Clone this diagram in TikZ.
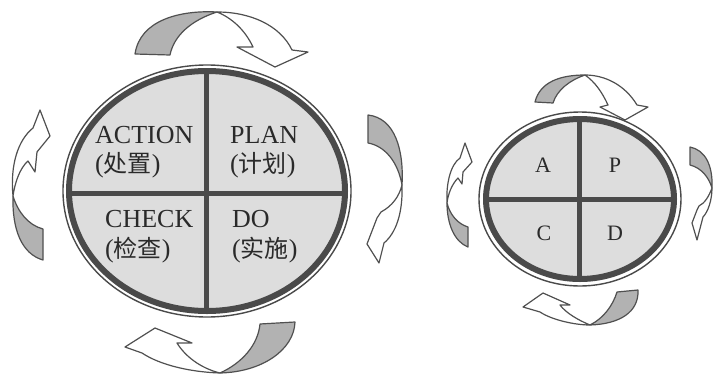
\documentclass[tikz,border=0pt]{standalone}
\usepackage{fontspec}
\setmainfont{Liberation Serif}
\newfontfamily\cjk{Noto Sans CJK SC}
\definecolor{ringc}{HTML}{4A4A4A}
\definecolor{quadc}{HTML}{DDDDDD}
\definecolor{tailc}{HTML}{B2B2B2}
\definecolor{edgec}{HTML}{505050}
\definecolor{txtc}{HTML}{2A2A2A}
\newcommand{\cjktxt}[1]{{\cjk\fontsize{24}{28}\selectfont #1}}
\tikzset{
  ringthin/.style={draw=ringc, line width=1.4pt},
  ringthick/.style={draw=ringc, line width=6pt},
  divider/.style={draw=ringc, line width=5pt},
  quadfill/.style={fill=quadc},
  tailst/.style={fill=tailc, draw=edgec, line width=1.2pt, line join=round},
  headst/.style={fill=white, draw=edgec, line width=1.2pt, line join=round},
  bigtxt/.style={inner sep=0pt, anchor=base west, text=txtc, font=\fontsize{26}{30}\selectfont},
  smalltxt/.style={inner sep=0pt, anchor=base, text=txtc, font=\fontsize{22}{26}\selectfont}
}
\begin{document}
\begin{tikzpicture}[x=1pt,y=-1pt]
\useasboundingbox (0,0) rectangle (715,378);
\fill[white] (0,0) rectangle (715,378);

% ---------- big circle ----------
\coordinate (bc) at (207,191);
\draw[ringthin] (bc) ellipse [x radius=144pt, y radius=126pt];
\fill[quadfill] (bc) ellipse [x radius=138pt, y radius=120pt];
\coordinate (bvt) at (206,71);
\coordinate (bvb) at (206,311);
\coordinate (bhl) at (69,193);
\coordinate (bhr) at (345,193);
\draw[divider] (bvt) -- (bvb);
\draw[divider] (bhl) -- (bhr);
\draw[ringthick] (bc) ellipse [x radius=138pt, y radius=120pt];

\node[bigtxt] (action) at (95,143) {ACTION};
\node[bigtxt] (actioncn) at (95,172) {(\cjktxt{处置})};
\node[bigtxt] (plan) at (230,143) {PLAN};
\node[bigtxt] (plancn) at (230,172) {(\cjktxt{计划})};
\node[bigtxt] (check) at (105,227) {CHECK};
\node[bigtxt] (checkcn) at (105,257) {(\cjktxt{检查})};
\node[bigtxt] (do) at (232,227) {DO};
\node[bigtxt] (docn) at (232,257) {(\cjktxt{实施})};

% ---------- big arrows ----------
% top
\filldraw[tailst] (135,54) .. controls (140,20) and (180,10) .. (217,12) .. controls (192,20) and (174,35) .. (170,55) -- cycle;
\filldraw[headst] (217,12) .. controls (250,12) and (280,25) .. (292,50) -- (308,52) -- (275,67) -- (237,47) -- (253,47) .. controls (245,30) and (232,18) .. (217,12) -- cycle;
% bottom
\filldraw[tailst] (295,322) .. controls (294,350) and (262,372) .. (220,373) .. controls (242,363) and (258,345) .. (260,324) -- cycle;
\filldraw[headst] (220,373) .. controls (190,372) and (160,365) .. (142,353) -- (125,347) -- (155,328) -- (192,343) -- (177,343) .. controls (185,356) and (200,368) .. (220,373) -- cycle;
% left
\filldraw[tailst] (43,260) .. controls (22,254) and (12,230) .. (13,196) .. controls (18,212) and (28,225) .. (43,229) -- cycle;
\filldraw[headst] (13,196) .. controls (10,165) and (18,140) .. (33,128) -- (40,110) -- (50,136) -- (37,152) -- (35,172) -- (28,161) .. controls (20,168) and (15,182) .. (13,196) -- cycle;
% right
\filldraw[tailst] (368,115) .. controls (395,118) and (404,150) .. (402,185) .. controls (398,162) and (385,146) .. (368,143) -- cycle;
\filldraw[headst] (402,185) .. controls (403,213) and (396,233) .. (384,243) -- (379,263) -- (367,244) -- (377,218) -- (381,212) .. controls (392,206) and (399,197) .. (402,185) -- cycle;

% ---------- small circle ----------
\coordinate (sc) at (580,199);
\draw[ringthin] (sc) ellipse [x radius=101pt, y radius=87pt];
\fill[quadfill] (sc) ellipse [x radius=94pt, y radius=80pt];
\coordinate (svt) at (579,119);
\coordinate (svb) at (579,279);
\coordinate (shl) at (486,199);
\coordinate (shr) at (674,199);
\draw[divider] (svt) -- (svb);
\draw[divider] (shl) -- (shr);
\draw[ringthick] (sc) ellipse [x radius=94pt, y radius=80pt];

\node[smalltxt] (a) at (543,172) {A};
\node[smalltxt] (p) at (615,172) {P};
\node[smalltxt] (c) at (544,240) {C};
\node[smalltxt] (d) at (615,240) {D};

% ---------- small arrows ----------
% top
\filldraw[tailst] (535,102) .. controls (540,82) and (560,75) .. (585,75) .. controls (570,80) and (557,90) .. (553,103) -- cycle;
\filldraw[headst] (585,75) .. controls (605,75) and (625,85) .. (637,105) -- (648,107) -- (625,120) -- (600,107) -- (608,105) .. controls (602,92) and (595,82) .. (585,75) -- cycle;
% bottom
\filldraw[tailst] (638,290) .. controls (639,312) and (620,324) .. (590,325) .. controls (604,318) and (613,305) .. (617,292) -- cycle;
\filldraw[headst] (590,325) .. controls (575,325) and (552,320) .. (540,312) -- (523,307) -- (543,293) -- (570,305) -- (560,305) .. controls (566,313) and (578,320) .. (590,325) -- cycle;
% left
\filldraw[tailst] (468,247) .. controls (455,242) and (447,225) .. (447,203) .. controls (450,215) and (458,224) .. (468,227) -- cycle;
\filldraw[headst] (447,203) .. controls (446,185) and (450,165) .. (460,158) -- (465,143) -- (472,162) -- (463,172) -- (462,184) -- (458,178) .. controls (452,184) and (448,194) .. (447,203) -- cycle;
% right
\filldraw[tailst] (690,147) .. controls (705,150) and (713,165) .. (712,188) .. controls (709,178) and (702,168) .. (690,165) -- cycle;
\filldraw[headst] (712,188) .. controls (712,200) and (708,212) .. (703,217) -- (697,240) -- (692,223) -- (697,210) -- (699,206) .. controls (705,203) and (709,196) .. (712,188) -- cycle;
\end{tikzpicture}
\end{document}
